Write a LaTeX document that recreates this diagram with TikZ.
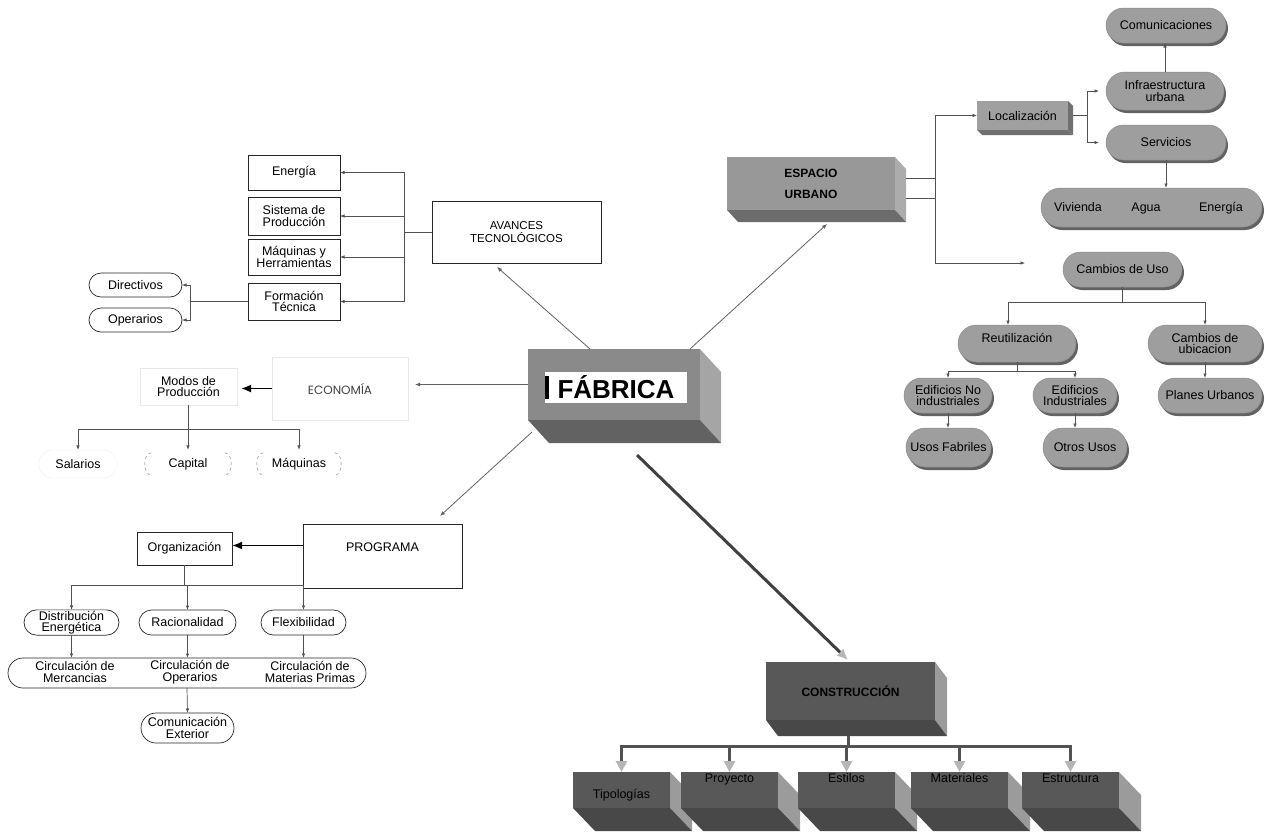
\documentclass[tikz,border=0pt]{standalone}
\usepackage{fontspec}
\setmainfont{Liberation Sans}
\newfontfamily\econfont{Poppins}
\usetikzlibrary{positioning,calc,arrows.meta,shapes.misc,shadows}

\definecolor{fabfront}{RGB}{138,138,138}
\definecolor{fabside}{RGB}{165,165,165}
\definecolor{fabbottom}{RGB}{98,98,98}
\definecolor{eufront}{RGB}{152,152,152}
\definecolor{euside}{RGB}{172,172,172}
\definecolor{eubottom}{RGB}{108,108,108}
\definecolor{lokfront}{RGB}{160,160,160}
\definecolor{lokshade}{RGB}{112,112,112}
\definecolor{pillgray}{RGB}{158,158,158}
\definecolor{pillshadow}{RGB}{98,98,98}
\definecolor{lowfront}{RGB}{88,88,88}
\definecolor{lowside}{RGB}{155,155,155}
\definecolor{lowbottom}{RGB}{72,72,72}
\definecolor{busgray}{RGB}{82,82,82}
\definecolor{tipgray}{RGB}{182,182,182}

% side and bottom faces of a block drawn as a node
\newcommand{\cuboidsides}[5]{%
  \fill[#4] (#1.north east) -- ++(#2,#3) -- ($(#1.south east)+(#2,#3)$) -- (#1.south east) -- cycle;
  \fill[#5] (#1.south west) -- ($(#1.south west)+(#2,#3)$) -- ($(#1.south east)+(#2,#3)$) -- (#1.south east) -- cycle;}

\begin{document}
\begin{tikzpicture}[x=1pt,y=-1pt,
    every node/.style={font=\fontsize{12.5}{11.5}\selectfont},
    line/.style={draw=black!68,line width=0.7pt},
    arr/.style={line,-{Latex[length=4.5pt,width=3.5pt]}},
    diag/.style={draw=black!62,line width=0.8pt,-{Latex[length=5pt,width=4pt]}},
    heavy/.style={draw=black,line width=1.8pt,-{Latex[length=10pt,width=8pt]}},
    plain box/.style={draw=black!85,line width=0.7pt,fill=white,align=center,inner sep=1pt,outer sep=0pt},
    faint box/.style={draw=black!9,line width=0.6pt,align=center,inner sep=1pt,outer sep=0pt},
    white pill/.style={rounded rectangle,draw=black!85,line width=0.7pt,fill=white,align=center,inner sep=1pt,outer sep=0pt},
    gray pill/.style={rounded rectangle,draw=black!45,line width=0.5pt,fill=pillgray,align=center,inner sep=1pt,outer sep=0pt,
      drop shadow={shadow xshift=2pt,shadow yshift=-3pt,fill=pillshadow,opacity=1}},
    cube front/.style={fill=#1,inner sep=2pt,outer sep=0pt,align=center},
    paren/.style={draw=black!30,line width=0.8pt,dashed},
    bus/.style={draw=busgray,line width=3pt},
    bus arrow/.style={bus,-{Triangle[length=11pt,width=11pt,color=tipgray]}}]

    \useasboundingbox (0,0) rectangle (1265,831);
    \clip (0,0) rectangle (1265,831);

    %Fabrica
    \node[cube front=fabfront, minimum width=172, minimum height=71] (fab) at (614,384.5) {};
    \cuboidsides{fab}{21}{23}{fabside}{fabbottom}
    \node[fill=white, inner sep=0pt, minimum width=142, minimum height=31,
      font=\bfseries\fontsize{26}{26}\selectfont] (fabtitle) at (616,387.5) {FÁBRICA};
    \fill (545,376) rectangle (548.5,399);

    %Espacio urbano
    \node[cube front=eufront, minimum width=168, minimum height=53,
      font=\bfseries\fontsize{12}{21}\selectfont] (eu) at (811,183.5) {ESPACIO\\URBANO};
    \cuboidsides{eu}{11}{12}{euside}{eubottom}

    \node[cube front=lokfront, minimum width=91, minimum height=29] (lok) at (1022.5,115.5) {Localización};
    \cuboidsides{lok}{5}{5}{lokshade}{lokshade}

    \node[gray pill, minimum width=122, minimum height=35] (comu) at (1166,25.5) {Comunicaciones};
    \node[gray pill, minimum width=120, minimum height=38] (infra) at (1165,91) {Infraestructura\\urbana};
    \node[gray pill, minimum width=122, minimum height=35] (serv) at (1166,142.5) {Servicios};
    \node[gray pill, minimum width=223, minimum height=39] (vae) at (1151.5,207.5) {};
    \node[anchor=base] (viv) at (1078,211.5) {Vivienda};
    \node[anchor=base] (agua) at (1146,211.5) {Agua};
    \node[anchor=base] (energ) at (1221,211.5) {Energía};

    \node[gray pill, minimum width=121, minimum height=35] (cambio) at (1122.5,269.5) {Cambios de Uso};
    \node[gray pill, minimum width=120, minimum height=37, text depth=12pt] (reut) at (1017,343.5) {Reutilización};
    \node[gray pill, minimum width=116, minimum height=37] (cubic) at (1205,343.5) {Cambios de\\ubicacion};
    \node[gray pill, minimum width=90, minimum height=35] (edno) at (948,395.5) {Edificios No\\industriales};
    \node[gray pill, minimum width=86, minimum height=35] (edin) at (1075,395.5) {Edificios\\Industriales};
    \node[gray pill, minimum width=106, minimum height=35] (planes) at (1210,395.5) {Planes Urbanos};
    \node[gray pill, minimum width=87, minimum height=39] (usos) at (948.5,447.5) {Usos Fabriles};
    \node[gray pill, minimum width=86, minimum height=39] (otros) at (1085,447.5) {Otros Usos};

    \draw[line] ($(eu.north east)+(11,21)$) -- ++(29,0) coordinate (eubus);
    \draw[line] ($(eu.north east)+(11,41)$) -- ++(29,0);
    \coordinate (cuend) at (1025,263);
    \draw[arr] (eubus) |- (lok.west);
    \draw[arr] (eubus) |- (cuend);
    \draw[line] ($(lok.east)+(5,0)$) -- ++(14,0) coordinate (lokbus);
    \draw[arr, shorten >=7pt] (lokbus) |- (infra.west);
    \draw[arr, shorten >=7pt] (lokbus) |- (serv.west);
    \draw[arr] (infra.north) -- (infra.north |- comu.south);
    \draw[arr] (serv.south) -- (serv.south |- vae.north);

    \draw[arr] (cambio.south) -- ++(0,15) -| ($(reut.north)+(-9,0)$);
    \draw[arr] (cambio.south) -- ++(0,15) -| (cubic.north);
    \draw[arr] (reut.south) -- ++(0,9) -| (edno.north);
    \draw[arr] (reut.south) -- ++(0,9) -| (edin.north);
    \draw[arr] (edno.south) -- (edno.south |- usos.north);
    \draw[arr] (edin.south) -- (edin.south |- otros.north);
    \draw[arr] (cubic.south) -- (cubic.south |- planes.north);

    %Avances
    \node[plain box, minimum width=169, minimum height=62,
      font=\fontsize{11.5}{13}\selectfont] (avan) at (516.5,232) {AVANCES\\TECNOLÓGICOS};
    \node[plain box, minimum width=92, minimum height=35] (ener) at (294,172.5) {Energía};
    \node[plain box, minimum width=92, minimum height=38] (sist) at (294,216) {Sistema de\\Producción};
    \node[plain box, minimum width=92, minimum height=36] (maq) at (294,257) {Máquinas y\\Herramientas};
    \node[plain box, minimum width=92, minimum height=37] (form) at (294,301.5) {Formación\\Técnica};
    \node[white pill, minimum width=95, minimum height=24] (dire) at (135.5,285) {Directivos};
    \node[white pill, minimum width=95, minimum height=24] (oper) at (135.5,320) {Operarios};

    \draw[line] (avan.west) -- ++(-28,0) coordinate (avbus);
    \foreach \n in {ener,sist,maq,form}
      \draw[arr] (avbus) |- (\n.east);
    \draw[line] (form.west) -- ++(-58,0) coordinate (fbus);
    \foreach \n in {dire,oper}
      \draw[arr] (fbus) |- (\n.east);

    %Economia
    \node[faint box, minimum width=136, minimum height=63,
      font=\econfont\fontsize{12}{12}\selectfont\color{black!75}] (econ) at (340,388.5) {ECONOMÍA};
    \node[faint box, minimum width=97, minimum height=37] (modos) at (188.5,386.5) {Modos de\\Producción};
    \node[rounded rectangle, draw=black!7, minimum width=85, minimum height=28] (sal) at (78,464) {Salarios};
    \node[minimum width=97, minimum height=28] (capi) at (188,464) {Capital};
    \node[minimum width=95, minimum height=28] (maqs) at (299,464) {Máquinas};
    \foreach \n in {capi,maqs}{
      \draw[paren] ([xshift=12pt,yshift=-3pt]\n.north west) to[out=180,in=180] ([xshift=12pt,yshift=3pt]\n.south west);
      \draw[paren] ([xshift=-12pt,yshift=-3pt]\n.north east) to[out=0,in=0] ([xshift=-12pt,yshift=3pt]\n.south east);
    }
    \draw[heavy, shorten >=4pt] (econ.west) -- (econ.west -| modos.east);
    \draw[line] (modos.south) -- ++(0,24) coordinate (mbus);
    \foreach \n in {sal,capi,maqs}
      \draw[arr] (mbus) -| (\n.north);

    %Programa
    \node[plain box, minimum width=159, minimum height=64, text depth=18pt] (prog) at (382.5,556) {PROGRAMA};
    \node[plain box, minimum width=95, minimum height=33] (orga) at (184.5,548.5) {Organización};
    \node[white pill, minimum width=97, minimum height=25] (dist) at (71.5,622.5) {Distribución\\Energética};
    \node[white pill, minimum width=99, minimum height=25] (raci) at (187.5,622.5) {Racionalidad};
    \node[white pill, minimum width=87, minimum height=25] (flex) at (303.5,622.5) {Flexibilidad};
    \node[white pill, minimum width=360, minimum height=30] (circ) at (187,673) {};
    \node[align=center] (circm) at (75,672) {Circulación de\\Mercancias};
    \node[align=center] (circo) at (190,672) {Circulación de\\Operarios};
    \node[align=center] (circp) at (310,672) {Circulación de\\Materias Primas};
    \node[white pill, minimum width=95, minimum height=30] (come) at (187.5,728) {Comunicación\\Exterior};

    \draw[heavy] ($(prog.west |- orga.east)+(0,-3)$) -- ($(orga.east)+(0,-3)$);
    \draw[line] (orga.south) -- ++(0,20) coordinate (obus);
    \foreach \n in {dist,raci,flex}
      \draw[arr] (obus) -| (\n.north);
    \foreach \n in {dist,raci,flex}
      \draw[arr] (\n.south) -- (\n.south |- circ.north);
    \draw[arr] (circ.south) -- (come.north);

    %Construccion
    \node[cube front=lowfront, minimum width=169, minimum height=58,
      font=\bfseries\fontsize{12}{12}\selectfont] (constr) at (850.5,691) {CONSTRUCCIÓN};
    \cuboidsides{constr}{12}{16}{lowside}{lowbottom}
    \draw[bus] ($(constr.south)+(-2,16)$) -- ++(0,10) coordinate (cbus);
    \foreach \x/\nm/\txt/\hh/\dd in {621.5/tipo/Tipologías/24/8, 729.5/proy/Proyecto/8/24,
        846.5/esti/Estilos/8/24, 959.5/mate/Materiales/8/24, 1070.5/estr/Estructura/8/24}{
      \node[cube front=lowfront, minimum width=97, text height=\hh pt, text depth=\dd pt] (\nm) at (\x,790) {\txt};
      \cuboidsides{\nm}{22}{23}{lowside}{lowbottom}
    }
    \foreach \nm in {tipo,proy,esti,mate,estr}
      \draw[bus arrow] (cbus) -| (\nm.north);

    %Flechas desde la fabrica
    \draw[diag] ($(fab.north west)+(62,0)$) -- ($(avan.south west)+(65,4)$);
    \draw[diag] ($(fab.north east)+(-10,0)$) -- ($(eu.south west)+(100,14)$);
    \draw[diag, shorten >=7pt] (fab.west) -- (fab.west -| econ.east);
    \draw[diag] ($(fab.south west)+(4,12)$) -- ($(prog.north east)+(-22,-8)$);
    \draw[draw=black!75, line width=3pt, -{Latex[length=11pt,width=10pt,color=tipgray]}]
      ($(fab.south)+(23,35)$) -- ($(constr.north west)+(82,-2)$);
\end{tikzpicture}
\end{document}
